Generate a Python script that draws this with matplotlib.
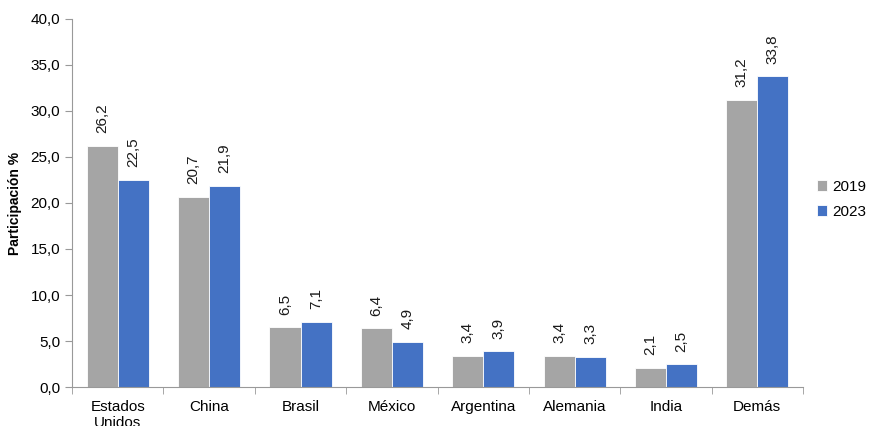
import numpy as np
import matplotlib.pyplot as plt

plt.rcParams['font.family'] = ['Liberation Sans', 'DejaVu Sans']

categories = ["Estados\nUnidos", "China", "Brasil", "México", "Argentina", "Alemania", "India", "Demás"]
v2019 = [26.2, 20.7, 6.5, 6.4, 3.4, 3.4, 2.1, 31.2]
v2023 = [22.5, 21.9, 7.1, 4.9, 3.9, 3.3, 2.5, 33.8]

fig = plt.figure(figsize=(8.69, 4.26), dpi=100)
ax = fig.add_axes([0.083, 0.0915, 0.841, 0.864])

x = np.arange(len(categories))
w = 0.34
b1 = ax.bar(x - w / 2, v2019, w, color="#A5A5A5", edgecolor="white", linewidth=0.6, label="2019")
b2 = ax.bar(x + w / 2, v2023, w, color="#4472C4", edgecolor="white", linewidth=0.6, label="2023")

for bars, vals in [(b1, v2019), (b2, v2023)]:
    for b, v in zip(bars, vals):
        ax.annotate(f"{v:.1f}".replace(".", ","), (b.get_x() + b.get_width() / 2, v),
                    xytext=(0, 9), textcoords="offset points", rotation=90,
                    ha="center", va="bottom", fontsize=11, color="#1a1a1a")

ax.set_xlim(-0.5, len(categories) - 0.5)
ax.set_ylim(0, 40)
ax.set_yticks(np.arange(0, 41, 5))
ax.set_yticklabels([f"{t:.1f}".replace(".", ",") for t in np.arange(0, 41, 5)], fontsize=11)
ax.set_xticks(x)
ax.set_xticklabels(categories, fontsize=11, va="top")
ax.set_xticks(np.arange(-0.5, len(categories), 1), minor=True)
ax.tick_params(axis="x", which="major", length=0, pad=9)
ax.tick_params(axis="x", which="minor", length=5, color="#999999")
ax.tick_params(axis="y", length=5, color="#999999")

for s in ["top", "right"]:
    ax.spines[s].set_visible(False)
for s in ["left", "bottom"]:
    ax.spines[s].set_color("#999999")

ax.set_ylabel("Participación %", fontsize=10, fontweight="bold", labelpad=6)

ax.legend(loc="center left", bbox_to_anchor=(1.0, 0.51), frameon=False, fontsize=11,
          handlelength=0.7, handleheight=0.7, handletextpad=0.3, labelspacing=0.7)

fig.savefig("out.png", dpi=100)
